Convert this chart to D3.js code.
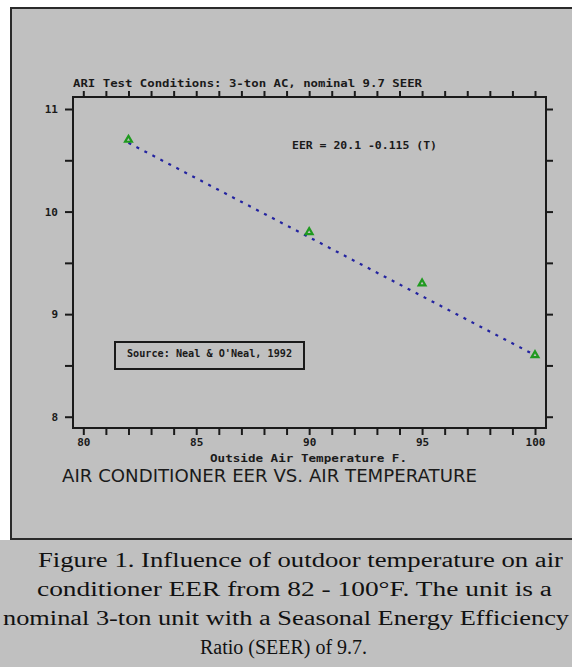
<!DOCTYPE html>
<html><head><meta charset="utf-8">
<script src="https://cdn.jsdelivr.net/npm/d3@7"></script>
<style>
html,body{margin:0;padding:0;background:#fff;}
svg{display:block;}
</style></head>
<body>
<script>
// ---- data ----
const temps = [82, 90, 95, 100];
const eerValues = [10.7, 9.8, 9.3, 8.6];
const xTickLabels = [80, 85, 90, 95, 100];
const xMinorTicks = d3.range(80, 101, 1);
const yTickLabels = [8, 9, 10, 11];
const yMinorTicks = [8, 8.5, 9, 9.5, 10, 10.5, 11];
const fitIntercept = 20.1;
const fitSlope = -0.115;
const fitRange = [82, 100];
const chartTitle = "ARI Test Conditions: 3-ton AC, nominal 9.7 SEER";
const fitLabel = "EER = 20.1 -0.115 (T)";
const sourceLabel = "Source: Neal & O'Neal, 1992";
const xAxisLabel = "Outside Air Temperature F.";
const bigTitle = "AIR CONDITIONER EER VS. AIR TEMPERATURE";
const captionLines = [
  "Figure 1.  Influence of outdoor temperature on air",
  "conditioner EER from 82 - 100\u00B0F. The unit is a",
  "nominal 3-ton unit with a Seasonal Energy Efficiency",
  "Ratio (SEER) of 9.7."
];

const W = 572, H = 667;
const svg = d3.select("body").append("svg").attr("width", W).attr("height", H);

// background panels
svg.append("rect").attr("x",0).attr("y",0).attr("width",W).attr("height",H).attr("fill","#fff");
svg.append("rect").attr("x",0).attr("y",540).attr("width",W).attr("height",H-540).attr("fill","#c0c0c0");
svg.append("rect").attr("x",11).attr("y",8).attr("width",600).attr("height",531)
  .attr("fill","#c0c0c0").attr("stroke","#2a2a2a").attr("stroke-width",2);

const mono = "'DejaVu Sans Mono', monospace";
const ink = "#1a1a1a";

// scales
const plot = {left:73, right:546, top:97, bottom:428};
const x = d3.scaleLinear().domain([79.544, 100.487]).range([plot.left, plot.right]);
const y = d3.scaleLinear().domain([7.89, 11.117]).range([plot.bottom, plot.top]);

// plot frame
svg.append("rect").attr("x",plot.left).attr("y",plot.top)
  .attr("width",plot.right-plot.left).attr("height",plot.bottom-plot.top)
  .attr("fill","none").attr("stroke",ink).attr("stroke-width",2);

function styleAxis(g){
  g.select(".domain").remove();
  g.selectAll(".tick line").attr("stroke",ink).attr("stroke-width",2);
  g.selectAll(".tick text").attr("fill",ink).attr("font-family",mono)
    .attr("font-size",11).attr("font-weight","bold");
}

// left axis
svg.append("g").attr("transform",`translate(${plot.left},0)`)
  .call(d3.axisLeft(y).tickValues(yMinorTicks).tickSize(8).tickPadding(7)
    .tickFormat(d => yTickLabels.includes(d) ? d : ""))
  .call(styleAxis);
// right axis
svg.append("g").attr("transform",`translate(${plot.right},0)`)
  .call(d3.axisRight(y).tickValues(yMinorTicks).tickSize(7).tickFormat(""))
  .call(styleAxis);
// bottom axis
svg.append("g").attr("transform",`translate(0,${plot.bottom})`)
  .call(d3.axisBottom(x).tickValues(xMinorTicks).tickSize(7).tickPadding(3)
    .tickFormat(d => xTickLabels.includes(d) ? d : ""))
  .call(styleAxis);
// top axis
svg.append("g").attr("transform",`translate(0,${plot.top})`)
  .call(d3.axisTop(x).tickValues(xMinorTicks).tickSize(6).tickFormat(""))
  .call(styleAxis);

// fit line (dotted)
const fitData = fitRange.map(t => [t, fitIntercept + fitSlope * t]);
svg.append("path").datum(fitData)
  .attr("d", d3.line().x(d => x(d[0])).y(d => y(d[1])))
  .attr("fill","none").attr("stroke","#2323a0").attr("stroke-width",2.2)
  .attr("stroke-dasharray","3,6");

// data markers
svg.append("g").selectAll("path").data(temps.map((t,i)=>[t,eerValues[i]])).join("path")
  .attr("transform", d => `translate(${x(d[0])},${y(d[1])})`)
  .attr("d", d3.symbol(d3.symbolTriangle, 20)())
  .attr("fill","none").attr("stroke","#1f9a1f").attr("stroke-width",2.2);

// texts
svg.append("text").attr("x",73).attr("y",87).text(chartTitle)
  .attr("font-family",mono).attr("font-size",11).attr("font-weight","bold").attr("fill",ink)
  .attr("textLength",349).attr("lengthAdjust","spacingAndGlyphs");

svg.append("text").attr("x",292).attr("y",149).text(fitLabel)
  .attr("font-family",mono).attr("font-size",10).attr("font-weight","bold").attr("fill",ink)
  .attr("textLength",145).attr("lengthAdjust","spacingAndGlyphs");

svg.append("rect").attr("x",115).attr("y",342).attr("width",189).attr("height",27)
  .attr("fill","none").attr("stroke",ink).attr("stroke-width",2);
svg.append("text").attr("x",127).attr("y",357).text(sourceLabel)
  .attr("font-family",mono).attr("font-size",10).attr("font-weight","bold").attr("fill",ink)
  .attr("textLength",165).attr("lengthAdjust","spacingAndGlyphs");

svg.append("text").attr("x",210).attr("y",462).text(xAxisLabel)
  .attr("font-family",mono).attr("font-size",11).attr("font-weight","bold").attr("fill",ink)
  .attr("textLength",197).attr("lengthAdjust","spacingAndGlyphs");

svg.append("text").attr("x",62).attr("y",482).text(bigTitle)
  .attr("font-family","'DejaVu Sans', sans-serif").attr("font-size",17).attr("fill",ink)
  .attr("textLength",415).attr("lengthAdjust","spacingAndGlyphs");

// caption
const capX = [[38,563],[37,552],[3,569],[200,367]];
const capY = [567, 596, 625, 654];
svg.append("g").selectAll("text").data(captionLines).join("text")
  .attr("x",(d,i)=>capX[i][0]).attr("y",(d,i)=>capY[i]).text(d=>d)
  .attr("font-family","'Liberation Serif', serif").attr("font-size",20).attr("fill","#111")
  .attr("textLength",(d,i)=>capX[i][1]-capX[i][0]).attr("lengthAdjust","spacingAndGlyphs");
</script>
</body></html>
